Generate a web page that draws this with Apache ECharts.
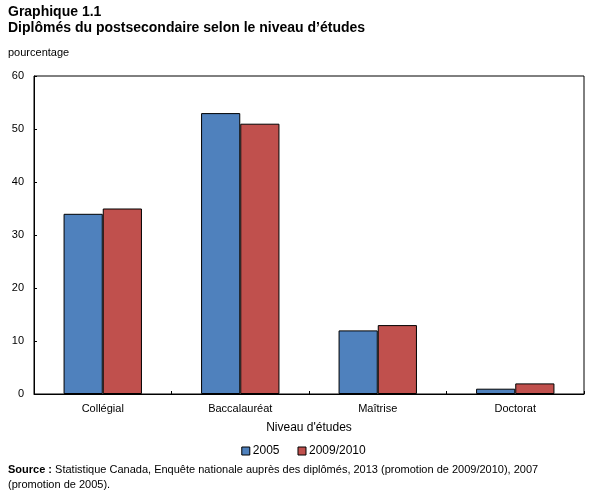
<!DOCTYPE html>
<html>
<head>
<meta charset="utf-8">
<script src="https://cdn.jsdelivr.net/npm/echarts@6/dist/echarts.min.js"></script>
<style>
  html, body { margin: 0; padding: 0; background: #fff; }
  #chart { width: 607px; height: 493px; }
</style>
</head>
<body>
<div id="chart"></div>
<script>
// data
const categories = ['Collégial', 'Baccalauréat', 'Maîtrise', 'Doctorat'];
const seriesNames = ['2005', '2009/2010'];
const values2005 = [34, 53, 12, 1];
const values2010 = [35, 51, 13, 2];
const yTicks = [0, 10, 20, 30, 40, 50, 60];

const font = 'Liberation Sans, Arial, sans-serif';
const chart = echarts.init(document.getElementById('chart'), null, { renderer: 'canvas' });

const option = {
    animation: false,
    textStyle: { fontFamily: font, color: '#000' },
    graphic: [
        { type: 'text', left: 8, top: 5, style: { text: 'Graphique 1.1', font: 'bold 14px ' + font, fill: '#000' } },
        { type: 'text', left: 8, top: 21, style: { text: 'Diplômés du postsecondaire selon le niveau d\u2019études', font: 'bold 14px ' + font, fill: '#000' } },
        { type: 'text', left: 8, top: 47, style: { text: 'pourcentage', font: '11px ' + font, fill: '#000' } },
        {
            type: 'text', left: 8, top: 462,
            style: {
                text: '{b|Source :} Statistique Canada, Enquête nationale auprès des diplômés, 2013 (promotion de 2009/2010), 2007\n(promotion de 2005).',
                font: '11px ' + font,
                fill: '#000',
                lineHeight: 15,
                rich: { b: { fontWeight: 'bold', fontSize: 11, fontFamily: font } }
            }
        }
    ],
    legend: {
        data: seriesNames,
        bottom: 31,
        left: 'center',
        itemWidth: 8,
        itemHeight: 8,
        itemGap: 18,
        icon: 'rect',
        textStyle: { fontSize: 12, fontFamily: font, color: '#000', padding: [0, 0, 0, -2] },
        itemStyle: { borderColor: '#000', borderWidth: 1 }
    },
    grid: {
        left: 34, right: 23, top: 76, bottom: 99,
        show: true, borderColor: '#000', borderWidth: 1
    },
    xAxis: {
        type: 'category',
        data: categories,
        name: 'Niveau d\'études',
        nameLocation: 'middle',
        nameGap: 28,
        nameTextStyle: { fontSize: 12, fontFamily: font, color: '#000' },
        axisLine: { lineStyle: { color: '#000', width: 1 } },
        axisTick: { show: true, inside: true, length: 3, lineStyle: { color: '#000' } },
        axisLabel: { fontSize: 11, color: '#000', margin: 9 }
    },
    yAxis: {
        type: 'value',
        min: yTicks[0],
        max: yTicks[yTicks.length - 1],
        interval: 10,
        axisLine: { show: true, lineStyle: { color: '#000', width: 1 } },
        axisTick: { show: true, inside: true, length: 3, lineStyle: { color: '#000' } },
        axisLabel: { fontSize: 11, color: '#000', margin: 10 },
        splitLine: { show: false }
    },
    series: [
        {
            name: seriesNames[0], type: 'bar', data: values2005,
            barGap: '0%', barCategoryGap: '43%',
            itemStyle: { color: '#4F81BD', borderColor: '#000', borderWidth: 1 }
        },
        {
            name: seriesNames[1], type: 'bar', data: values2010,
            itemStyle: { color: '#C0504D', borderColor: '#000', borderWidth: 1 }
        }
    ]
};

chart.setOption(option);
</script>
</body>
</html>
